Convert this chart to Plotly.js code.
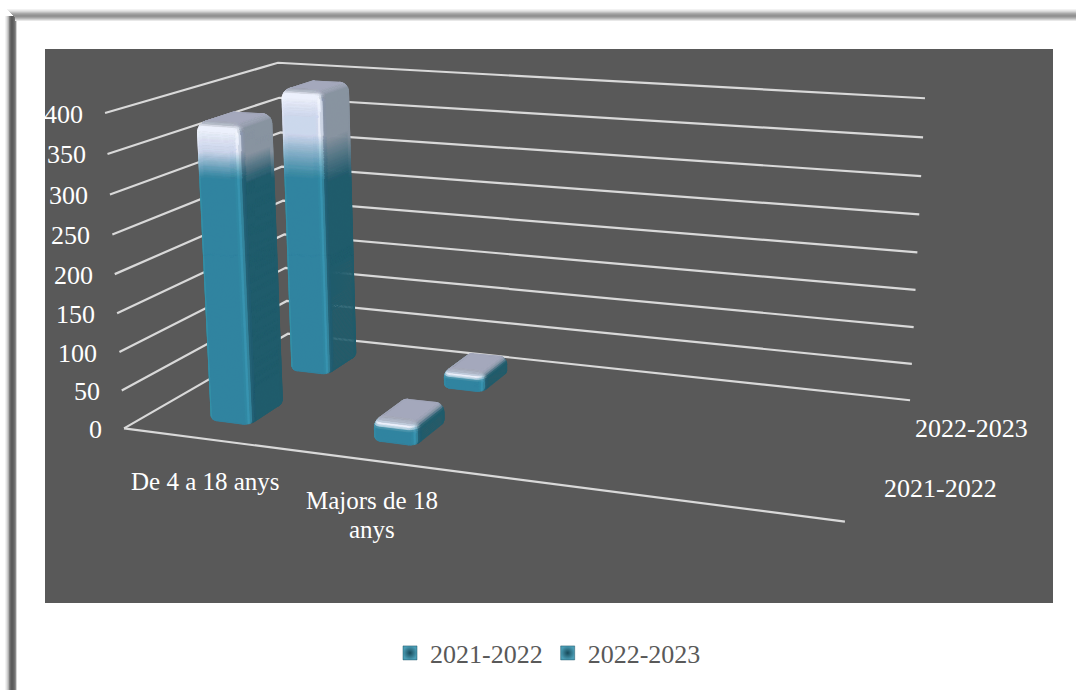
<!DOCTYPE html>
<html><head><meta charset="utf-8">
<script src="https://cdn.plot.ly/plotly-3.0.1.min.js"></script>
<style>html,body{margin:0;padding:0;background:#fff}#c{width:1076px;height:690px}</style>
</head><body><div id="c"></div>
<script>
// ---- data ----
const categories = ['De 4 a 18 anys', 'Majors de 18 anys', '', ''];
const categoryLines = [['De 4 a 18 anys'], ['Majors de 18', 'anys']];
const seriesNames = ['2021-2022', '2022-2023'];
const values2122 = [384, 30];
const values2223 = [391, 26];
const yTicks = [0, 50, 100, 150, 200, 250, 300, 350, 400];

// ---- perspective of the 3-D plot: (category share, depth share, value) -> page pixel ----
const zMax = 400;
const anchors = [
  [0,0,0,124,429],[1,0,0,845,521],[0,1,0,288,333],[1,1,0,910,401],
  [0,0,1,105,113],[0,1,1,278,63],[1,1,1,925,98]
];
function fitProjection(pts){
  const A=[],b=[];
  pts.forEach(p=>{const [x,y,z,u,v]=p;
    A.push([x,y,z,1,0,0,0,0,-u*x,-u*y,-u*z]);b.push(u);
    A.push([0,0,0,0,x,y,z,1,-v*x,-v*y,-v*z]);b.push(v);});
  const n=11,M=[];
  for(let i=0;i<n;i++){M.push(new Array(n+1).fill(0));
    for(let j=0;j<n;j++)for(let k=0;k<A.length;k++)M[i][j]+=A[k][i]*A[k][j];
    for(let k=0;k<A.length;k++)M[i][n]+=A[k][i]*b[k];}
  for(let i=0;i<n;i++){let m=i;for(let r=i+1;r<n;r++)if(Math.abs(M[r][i])>Math.abs(M[m][i]))m=r;
    [M[i],M[m]]=[M[m],M[i]];
    for(let r=0;r<n;r++)if(r!==i){const f=M[r][i]/M[i][i];for(let c=i;c<=n;c++)M[r][c]-=f*M[i][c];}}
  return M.map((r,i)=>r[n]/r[i]);
}
const H=fitProjection(anchors);
function proj(x,y,val){const z=val/zMax,w=H[8]*x+H[9]*y+H[10]*z+1;
  return [(H[0]*x+H[1]*y+H[2]*z+H[3])/w,(H[4]*x+H[5]*y+H[6]*z+H[7])/w];}

const traces=[];
// ---- gridlines on the two walls, plus the front edge of the floor ----
const gx=[],gy=[];
yTicks.forEach(t=>{[[0,0],[0,1],[1,1]].forEach(c=>{const p=proj(c[0],c[1],t);gx.push(p[0]);gy.push(p[1]);});gx.push(null);gy.push(null);});
[[0,0],[1,0]].forEach(c=>{const p=proj(c[0],c[1],0);gx.push(p[0]);gy.push(p[1]);});
traces.push({type:'scatter',mode:'lines',x:gx,y:gy,line:{color:'#d9d9d9',width:2.2},hoverinfo:'skip',showlegend:false});

// ---- colour helpers ----
const hex=s=>[1,3,5].map(i=>parseInt(s.substr(i,2),16));
const mix=(a,b,t)=>a.map((v,i)=>v+(b[i]-v)*t);
const sstep=(a,b,x)=>{const t=Math.min(1,Math.max(0,(x-a)/(b-a)));return t*t*(3-2*t);};
function ramp(st,a){for(let i=1;i<st.length;i++)if(a<=st[i][0])return mix(st[i-1][1],st[i][1],(a-st[i-1][0])/(st[i][0]-st[i-1][0]));return st[st.length-1][1];}
const teal=[[-180,hex('#1f5a6c')],[-90,hex('#2b7f9a')],[-60,hex('#3a94ae')],[-20,hex('#2f84a0')],[30,hex('#2f84a0')],[52,hex('#3f9bb6')],[68,hex('#235f73')],[90,hex('#1f5a6c')],[180,hex('#1f5a6c')]];
const lav=[[-180,hex('#87919f')],[-90,hex('#aeb7cf')],[-60,hex('#e6ecfb')],[-20,hex('#cdd6ec')],[30,hex('#cdd6ec')],[52,hex('#f2f6ff')],[68,hex('#8e99b0')],[90,hex('#87929f')],[180,hex('#87929f')]];
const capTop=hex('#a3a9ba'),capHi=hex('#eef2fe'),glow=hex('#f4f7ff');
const gradEnd=179;
function shade(nx,ny,nz,py,top){
  const a=Math.atan2(nx,-ny)*180/Math.PI;
  let t=0,g=0;
  if(top<gradEnd){
    const full=gradEnd-(gradEnd-top)*0.5;
    t=Math.min(1,Math.max(0,(gradEnd-py)/(gradEnd-full)));
    t=Math.pow(t,1.15);
    g=ny<0&&Math.abs(a)<50?sstep(top+28,top+4,py)*0.8:0;
  }
  let c=mix(ramp(teal,a),ramp(lav,a),t);
  c=mix(c,glow,g);
  if(nz>0){
    c=mix(c,capTop,sstep(0.35,0.95,nz));
    const hi=Math.max(0,-ny/Math.hypot(nx,ny||1e-6))*Math.exp(-Math.pow((nz-0.6)/0.22,2));
    c=mix(c,capHi,hi);
  }
  return c;
}
// ---- one rounded 3-D bar, built from its value ----
function addBar(cat,ser,val){
  const nc=categories.length,cx=(cat+0.5)/nc+0.002,cy=(ser+0.5)/2-0.008;
  const hx=0.0335,hy=0.113,rx=0.013,ry=0.04;
  const rz=Math.min(13,val*0.45),rb=Math.min(6,val*0.2);
  const K=7;
  const corners=[[-1,-1,-Math.PI],[1,-1,-Math.PI/2],[1,1,0],[-1,1,Math.PI/2]];
  const per=[];
  corners.forEach(c=>{for(let k=0;k<=K;k++){const th=c[2]+k/K*Math.PI/2;per.push({sx:c[0],sy:c[1],nx:Math.cos(th),ny:Math.sin(th)});}});
  per.push(per[0]);
  const rings=[];
  for(let k=0;k<=3;k++){const p=k/3*Math.PI/2;rings.push({z:rb-rb*Math.cos(p),ins:(1-Math.sin(p))*0.6,nz:-Math.cos(p)});}
  const nS=Math.max(4,Math.round((val-rz-rb)/1.2));
  for(let k=1;k<=nS;k++){rings.push({z:rb+(val-rz-rb)*k/nS,ins:0,nz:0});}
  for(let k=1;k<=8;k++){const p=k/8*Math.PI/2;rings.push({z:val-rz+rz*Math.sin(p),ins:1-Math.cos(p),nz:Math.sin(p)});}
  const pt=(e,r)=>{const irx=rx*(1-r.ins),iry=ry*(1-r.ins);
    const ex=hx-rx*r.ins,ey=hy-ry*r.ins;
    return proj(cx+e.sx*(ex-irx)+e.nx*irx,cy+e.sy*(ey-iry)+e.ny*iry,r.z);};
  const top=proj(cx,cy-hy,val)[1];
  const groups=new Map();
  const emit=(poly,col)=>{const key=col.map(v=>Math.min(255,Math.round(v/4)*4)).join(',');
    if(!groups.has(key))groups.set(key,{x:[],y:[]});const g=groups.get(key);
    poly.forEach(p=>{g.x.push(p[0]);g.y.push(p[1]);});g.x.push(poly[0][0],null);g.y.push(poly[0][1],null);};
  for(let k=0;k<rings.length-1;k++){const a=rings[k],b=rings[k+1];
    for(let i=0;i<per.length-1;i++){
      const q=[pt(per[i],a),pt(per[i+1],a),pt(per[i+1],b),pt(per[i],b)];
      let ar=0;for(let j=0;j<4;j++){const n=q[(j+1)%4];ar+=q[j][0]*n[1]-n[0]*q[j][1];}
      if(ar>=-1e-4)continue;
      const nzm=(a.nz+b.nz)/2,cz=Math.sqrt(Math.max(0,1-nzm*nzm));
      const mx=(per[i].nx+per[i+1].nx)/2,my=(per[i].ny+per[i+1].ny)/2;
      const py=(q[0][1]+q[2][1])/2;
      emit(q,shade(mx*cz,my*cz,nzm,py,top));
    }}
  const last=rings[rings.length-1];
  emit(per.map(e=>pt(e,last)),capTop);
  groups.forEach((g,key)=>{const col='rgb('+key+')';
    traces.push({type:'scatter',mode:'lines',x:g.x,y:g.y,fill:'toself',fillcolor:col,line:{color:col,width:0.7},hoverinfo:'skip',showlegend:false,name:seriesNames[ser]});});
}
[values2223,values2122].forEach((vals,i)=>{const ser=1-i;
  [1,0].forEach(c=>addBar(c,ser,vals[c]));});

// ---- legend entries ----
seriesNames.forEach(n=>traces.push({type:'scatter',mode:'markers',x:[-200],y:[-200],name:n,
  marker:{symbol:'square',size:14,color:'#4a9db5',gradient:{type:'radial',color:'#174a5a'},line:{color:'#1d5566',width:0.5}}}));

// ---- text ----
const serif='Liberation Serif';
const ann=(t,x,y,anchor,size)=>({text:t,x,y,xref:'x',yref:'y',showarrow:false,xanchor:anchor,yanchor:'middle',font:{family:serif,size:size,color:'#ffffff'}});
const annotations=yTicks.map(t=>{const p=proj(0,0,t);return ann(String(t),p[0]-20,p[1]+1,'right',26);});
annotations.push(ann(categoryLines[0][0],205,481,'center',25));
annotations.push(ann(categoryLines[1][0],372,500,'center',25));
annotations.push(ann(categoryLines[1][1],372,529,'center',25));
annotations.push(ann(seriesNames[0],940,488,'center',26));
annotations.push(ann(seriesNames[1],971,428,'center',26));

// ---- page frame, panel ----
const shapes=[{type:'rect',layer:'below',x0:45,x1:1053,y0:49,y1:603,xref:'x',yref:'y',fillcolor:'#595959',line:{width:0}}];
const leftGrays=['#f2f2f2','#e2e2e2','#cccccc','#b0b0b0','#808080','#6a6a6a','#5c5c5c','#5c5c5c','#646464','#707070','#8a8a8a','#d4d4d4'];
const topGrays=['#f2f2f2','#e6e6e6','#d6d6d6','#c0c0c0','#aaaaaa','#9c9c9c','#929292','#949494','#a4a4a4','#b8b8b8','#d0d0d0','#e8e8e8'];
leftGrays.forEach((c,i)=>shapes.push({type:'rect',layer:'below',xref:'x',yref:'y',x0:5+i,x1:6+i,y0:16,y1:690,fillcolor:c,line:{width:0}}));
topGrays.forEach((c,i)=>shapes.push({type:'rect',layer:'below',xref:'x',yref:'y',x0:7+Math.min(i,8),x1:1076,y0:9+i,y1:10+i,fillcolor:c,line:{width:0}}));

const layout={width:1076,height:690,margin:{l:0,r:0,t:0,b:0},paper_bgcolor:'#ffffff',plot_bgcolor:'rgba(0,0,0,0)',
  xaxis:{range:[0,1076],visible:false,fixedrange:true},
  yaxis:{range:[690,0],visible:false,fixedrange:true},
  shapes,annotations,showlegend:true,hovermode:false,
  legend:{orientation:'h',x:548/1076,xanchor:'center',y:(690-653)/690,yanchor:'middle',bgcolor:'rgba(0,0,0,0)',
    font:{family:serif,size:26,color:'#595959'},itemwidth:30}};
Plotly.newPlot('c',traces,layout,{displayModeBar:false,staticPlot:true});
</script></body></html>
